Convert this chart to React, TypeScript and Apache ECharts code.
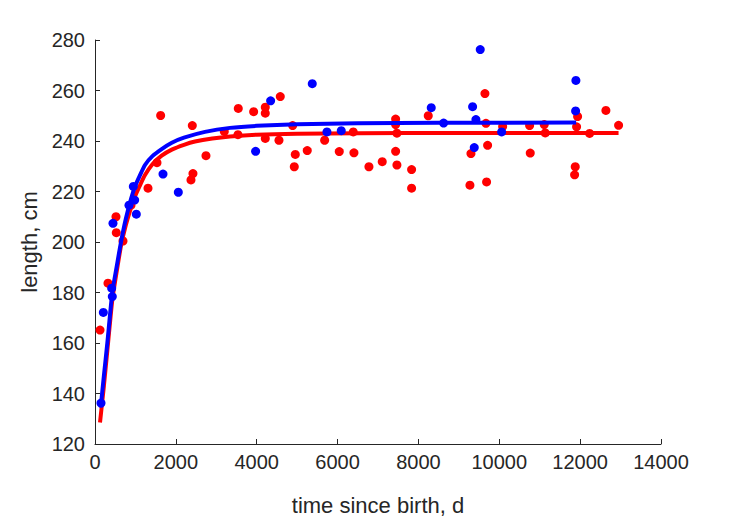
import React, { useEffect, useRef } from "react";
import * as echarts from "echarts";

// Observed data: female (red) and male (blue) — [time since birth (d), length (cm)]
const redDays = [124, 321, 519, 527, 692, 890, 1311, 1533, 1624, 2374, 2423, 2407, 2745, 3198, 3544, 3536, 3924, 4212, 4212, 4212, 4550, 4583, 4889, 4954, 4929, 5250, 5680, 6042, 6405, 6388, 6776, 7105, 7436, 7436, 7468, 7436, 7468, 7831, 7831, 8243, 9645, 9670, 9711, 9299, 9274, 9686, 10083, 10750, 11112, 11137, 10766, 11937, 11912, 11879, 11863, 12234, 12637, 12951];
const redLength = [165.1, 183.7, 210, 203.7, 200.4, 214.6, 221.3, 231.4, 250.1, 224.6, 227.1, 246.1, 234.2, 243.8, 252.9, 242.5, 251.6, 253.4, 251, 241, 240.3, 257.6, 246.1, 234.7, 229.8, 236.2, 240.3, 235.8, 235.3, 243.6, 229.8, 231.8, 248.7, 246.5, 243.1, 235.9, 230.5, 228.7, 221.3, 250, 258.8, 247, 238.3, 235, 222.5, 223.8, 245.7, 246.1, 246.5, 243.2, 235.2, 249.7, 245.6, 229.8, 226.6, 243, 252.1, 246.2];

const blueDays = [148, 206, 412, 428, 445, 841, 948, 981, 1022, 1682, 2061, 3973, 4344, 5374, 5737, 6091, 8317, 8623, 9340, 9422, 9381, 10058, 9529, 11895, 11888];
const blueLength = [136.2, 172.1, 181.7, 178.4, 207.4, 214.6, 222, 216.6, 211, 226.9, 219.7, 235.9, 255.9, 262.7, 243.6, 244.1, 253.2, 247.1, 253.6, 248.5, 237.4, 243.6, 276.2, 264, 251.9];

// Fitted curves
const redFitDays = [124, 220, 305, 428, 544, 643, 760, 890, 989, 1100, 1236, 1420, 1649, 1900, 2200, 2473, 2900, 3339, 4000, 5000, 6500, 9000, 12950];
const redFitLength = [128.5, 143, 157, 177, 189, 198.5, 206.5, 213.5, 218, 222, 226.5, 230.8, 234.2, 236.6, 238.5, 239.8, 241, 241.8, 242.5, 242.9, 243.1, 243.2, 243.2];

const blueFitDays = [140, 220, 305, 428, 544, 643, 760, 890, 989, 1100, 1236, 1420, 1649, 1900, 2200, 2720, 3339, 4000, 5000, 6500, 8500, 11900];
const blueFitLength = [134.5, 147, 160, 180, 191, 200, 209, 217, 222, 226, 230.5, 234, 236.8, 239.3, 241.3, 243.6, 245.2, 246, 246.6, 247, 247.2, 247.3];

const xTicks = [0, 2000, 4000, 6000, 8000, 10000, 12000, 14000];
const yTicks = [120, 140, 160, 180, 200, 220, 240, 260, 280];

const zip = (a: number[], b: number[]) => a.map((v, i) => [v, b[i]]);

const AXIS = "#262626";
const FONT = "Liberation Sans, Arial, Helvetica, sans-serif";

export default function App() {
  const ref = useRef<HTMLDivElement>(null);
  useEffect(() => {
    if (!ref.current) return;
    const chart = echarts.init(ref.current, undefined, { renderer: "svg" });
    const axisCommon = {
      type: "value" as const,
      axisLine: { show: true, lineStyle: { color: AXIS, width: 1 } },
      axisTick: { show: true, inside: true, length: 5, lineStyle: { color: AXIS } },
      splitLine: { show: false },
      nameLocation: "middle" as const,
      nameTextStyle: { fontSize: 22, color: AXIS, fontFamily: FONT },
    };
    chart.setOption({
      animation: false,
      backgroundColor: "#ffffff",
      grid: { left: 95, right: 68, top: 40, bottom: 68, containLabel: false },
      xAxis: {
        ...axisCommon,
        min: xTicks[0],
        max: xTicks[xTicks.length - 1],
        interval: 2000,
        name: "time since birth, d",
        nameGap: 50,
        axisLabel: { fontSize: 20, color: AXIS, fontFamily: FONT, margin: 8, formatter: (v: number) => String(v) },
      },
      yAxis: {
        ...axisCommon,
        min: yTicks[0],
        max: yTicks[yTicks.length - 1],
        interval: 20,
        name: "length, cm",
        nameGap: 45,
        nameRotate: 90,
        axisLabel: { fontSize: 20, color: AXIS, fontFamily: FONT, margin: 10, formatter: (v: number) => String(v) },
      },
      series: [
        {
          type: "scatter",
          data: zip(redDays, redLength),
          symbol: "circle",
          symbolSize: 9,
          itemStyle: { color: "#ff0000", opacity: 1 },
          z: 2,
        },
        {
          type: "line",
          data: zip(redFitDays, redFitLength),
          showSymbol: false,
          smooth: 0.2,
          lineStyle: { color: "#ff0000", width: 4 },
          z: 3,
        },
        {
          type: "scatter",
          data: zip(blueDays, blueLength),
          symbol: "circle",
          symbolSize: 9,
          itemStyle: { color: "#0000ff", opacity: 1 },
          z: 4,
        },
        {
          type: "line",
          data: zip(blueFitDays, blueFitLength),
          showSymbol: false,
          smooth: 0.2,
          lineStyle: { color: "#0000ff", width: 4 },
          z: 5,
        },
      ],
    });
    return () => chart.dispose();
  }, []);
  return <div ref={ref} style={{ width: 729, height: 521, position: "absolute", left: 0, top: 0 }} />;
}
